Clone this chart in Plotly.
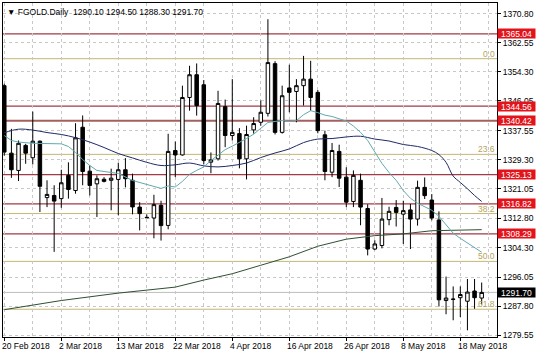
import plotly.graph_objects as go

# ---- data ----
bar_index = list(range(68))
opens = [1350.35, 1331.2, 1326.3, 1333.4, 1329.9, 1334.6, 1318.6, 1319.2, 1318.3, 1324.9,
         1320.6, 1338.55, 1326.1, 1322.5, 1323.8, 1323.5, 1323.75, 1326.5, 1323.5, 1315.9,
         1313.0, 1312.8, 1316.4, 1310.7, 1331.95, 1330.7, 1347.0, 1353.45, 1350.6, 1328.65,
         1329.6, 1344.4, 1336.2, 1336.75, 1329.6, 1337.8, 1339.96, 1342.5, 1356.6, 1337.1,
         1349.7, 1348.7, 1350.35, 1352.2, 1348.45, 1336.4, 1325.8, 1331.7, 1324.4, 1317.5,
         1323.5, 1315.5, 1304.0, 1305.0, 1312.35, 1315.8, 1313.9, 1315.1, 1312.5, 1321.5,
         1317.9, 1312.25, 1289.4, 1289.7, 1290.2, 1289.2, 1292.1, 1290.10]
highs = [1350.9, 1338.1, 1334.8, 1333.85, 1343.0, 1334.8, 1323.5, 1322.1, 1326.5, 1328.6,
         1339.7, 1341.9, 1327.7, 1324.9, 1324.4, 1326.8, 1328.5, 1329.8, 1325.4, 1317.3,
         1313.8, 1319.4, 1317.7, 1336.7, 1334.5, 1350.35, 1356.0, 1356.65, 1351.95, 1331.4,
         1348.9, 1346.4, 1352.2, 1338.3, 1339.0, 1341.4, 1346.1, 1369.2, 1357.3, 1350.35,
         1356.3, 1352.2, 1358.8, 1357.4, 1349.1, 1337.6, 1334.1, 1333.6, 1327.2, 1326.3,
         1325.4, 1316.7, 1306.5, 1318.5, 1316.0, 1317.9, 1317.7, 1316.8, 1323.4, 1324.3,
         1319.6, 1314.7, 1296.2, 1293.4, 1293.4, 1295.5, 1295.5, 1294.50]
lows = [1330.5, 1324.2, 1323.3, 1328.2, 1328.0, 1314.5, 1315.9, 1303.2, 1315.7, 1318.3,
        1319.7, 1322.1, 1319.2, 1313.1, 1322.9, 1315.0, 1313.6, 1321.5, 1313.85, 1309.3,
        1312.8, 1307.05, 1306.4, 1309.6, 1324.4, 1330.5, 1343.25, 1341.85, 1328.0, 1325.5,
        1329.1, 1332.9, 1334.8, 1326.9, 1323.75, 1336.75, 1339.0, 1341.6, 1336.5, 1336.75,
        1342.8, 1339.96, 1344.7, 1343.25, 1336.85, 1323.5, 1324.4, 1321.6, 1315.9, 1315.9,
        1310.75, 1302.2, 1303.7, 1304.2, 1310.75, 1310.4, 1305.45, 1304.0, 1310.65, 1318.2,
        1312.15, 1287.7, 1285.5, 1283.8, 1284.7, 1280.95, 1287.05, 1288.30]
closes = [1331.5, 1326.5, 1334.0, 1331.2, 1334.6, 1321.8, 1319.5, 1317.6, 1322.8, 1320.9,
          1335.55, 1326.0, 1322.05, 1323.95, 1323.2, 1324.1, 1326.5, 1323.95, 1315.95, 1314.05,
          1312.9, 1316.6, 1310.65, 1331.7, 1330.7, 1347.0, 1353.45, 1344.7, 1329.1, 1329.3,
          1345.3, 1336.2, 1337.1, 1329.6, 1336.5, 1339.6, 1342.8, 1356.9, 1337.1, 1347.5,
          1348.45, 1350.35, 1352.2, 1347.0, 1337.6, 1326.0, 1331.95, 1324.1, 1317.3, 1324.9,
          1315.9, 1304.0, 1305.45, 1312.5, 1314.7, 1314.4, 1314.9, 1312.5, 1321.5, 1319.15,
          1312.8, 1289.6, 1290.1, 1289.8, 1291.1, 1291.8, 1290.2, 1291.70]

fast_ma_idx = [0, 1, 2, 4, 8, 9, 10, 11, 12, 13, 14, 16, 18, 20, 22, 23, 24, 25, 26, 27,
               28, 29, 30, 31, 32, 33, 34, 35, 36, 37, 38, 39, 40, 41, 42, 43, 44, 45, 46, 47,
               48, 49, 50, 51, 52, 53, 54, 55, 56, 57, 58, 59, 60, 61, 62, 63, 64, 65, 66, 67]
fast_ma = [1336.2, 1334.8, 1334.35, 1334.0, 1333.85, 1333.1, 1331.4, 1329.4, 1327.7, 1326.3,
           1326.0, 1325.45, 1323.45, 1322.3, 1321.2, 1321.9, 1321.6, 1323.2, 1325.2, 1326.3,
           1327.3, 1329.1, 1330.55, 1332.2, 1333.2, 1334.2, 1335.35, 1336.6, 1338.2, 1339.9,
           1340.2, 1340.45, 1340.3, 1340.45, 1342.1, 1343.25, 1342.7, 1342.0, 1341.6, 1340.9,
           1340.3, 1338.9, 1337.1, 1334.8, 1331.5, 1328.3, 1325.7, 1323.5, 1320.6, 1318.4,
           1317.0, 1316.1, 1315.0, 1313.3, 1310.75, 1308.5, 1307.05, 1305.65, 1304.25, 1303.1]

slow_ma_idx = [0, 2, 4, 6, 8, 10, 12, 14, 16, 18, 20, 22, 24, 26, 28, 30, 32, 34, 36, 38,
               40, 42, 44, 46, 48, 50, 52, 54, 56, 58, 60, 61, 62, 63, 64, 65, 66, 67]
slow_ma = [1337.0, 1338.0, 1337.75, 1337.05, 1336.5, 1335.6, 1334.35, 1332.8, 1331.1, 1329.85,
           1328.6, 1327.7, 1327.9, 1328.4, 1327.6, 1327.3, 1327.7, 1328.4, 1329.95, 1331.25,
           1332.4, 1334.2, 1335.2, 1335.35, 1335.8, 1336.0, 1335.2, 1334.65, 1333.65, 1333.1,
           1331.95, 1330.8, 1328.6, 1324.7, 1322.9, 1321.1, 1319.2, 1317.5]

long_ma_idx = [0, 8, 16, 24, 28, 32, 36, 40, 44, 48, 52, 56, 60, 64, 67]
long_ma = [1286.8, 1289.4, 1291.5, 1293.2, 1295.2, 1297.0, 1299.4, 1301.8, 1304.8, 1306.8,
           1307.8, 1308.3, 1309.2, 1309.45, 1309.5]

level_values = [1365.04, 1344.56, 1340.42, 1325.13, 1316.82, 1308.29]
level_labels = ["1365.04", "1344.56", "1340.42", "1325.13", "1316.82", "1308.29"]

fib_names = ["0.0", "23.6", "38.2", "50.0", "61.8"]
fib_values = [1358.0, 1330.86, 1314.07, 1300.5, 1286.93]

last_price = 1291.70
last_label = "1291.70"

y_ticks = [1370.80, 1362.55, 1354.30, 1346.05, 1337.55, 1329.30, 1321.05, 1312.80,
           1304.30, 1296.05, 1287.80, 1279.55]
y_tick_text = ["1370.80", "1362.55", "1354.30", "1346.05", "1337.55", "1329.30", "1321.05",
               "1312.80", "1304.30", "1296.05", "1287.80", "1279.55"]

date_label_idx = [0, 8, 16, 24, 32, 40, 48, 56, 64]
date_labels = ["20 Feb 2018", "2 Mar 2018", "13 Mar 2018", "22 Mar 2018", "4 Apr 2018",
               "16 Apr 2018", "26 Apr 2018", "8 May 2018", "18 May 2018"]
grid_minor_idx = [4, 12, 20, 28, 36, 44, 52, 60, 68]

title_text = "\u25BC FGOLD.Daily  1290.10 1294.50 1288.30 1291.70"

# ---- styles ----
FONT = "Liberation Sans, Arial, sans-serif"
FS = 8.5
RED_LINE = "#A23A45"
RED_BOX = "#E3131B"
FIB_LINE = "#C4B872"
FIB_TEXT = "#B5A45A"
GRID = "#C8C8C8"

fig = go.Figure()

fig.add_trace(go.Scatter(x=long_ma_idx, y=long_ma, mode="lines",
                         line=dict(color="#2F4F32", width=1), hoverinfo="skip", showlegend=False))
fig.add_trace(go.Scatter(x=slow_ma_idx, y=slow_ma, mode="lines", line_shape="spline",
                         line=dict(color="#1F2A66", width=1), hoverinfo="skip", showlegend=False))
fig.add_trace(go.Scatter(x=fast_ma_idx, y=fast_ma, mode="lines",
                         line=dict(color="#62A9AE", width=1), hoverinfo="skip", showlegend=False))

fig.add_trace(go.Candlestick(
    x=bar_index, open=opens, high=highs, low=lows, close=closes,
    increasing=dict(line=dict(color="#000000", width=1), fillcolor="#FFFFFF"),
    decreasing=dict(line=dict(color="#000000", width=1), fillcolor="#000000"),
    whiskerwidth=0, hoverinfo="skip", showlegend=False))

shapes = []
annotations = []

for v, lab in zip(fib_values, fib_names):
    shapes.append(dict(type="line", xref="paper", yref="y", x0=0, x1=1, y0=v, y1=v,
                       line=dict(color=FIB_LINE, width=1), layer="below"))
    annotations.append(dict(xref="paper", yref="y", x=1, y=v, xanchor="right", yanchor="bottom",
                            xshift=-1, yshift=-1, text=lab, showarrow=False,
                            font=dict(family=FONT, size=FS, color=FIB_TEXT), borderpad=0))

shapes.append(dict(type="line", xref="paper", yref="y", x0=0, x1=1, y0=last_price, y1=last_price,
                   line=dict(color="#BDBDBD", width=1), layer="below"))

for v, lab in zip(level_values, level_labels):
    w = 2 if lab == "1340.42" else 1.3
    col = "#A46060" if lab == "1340.42" else RED_LINE
    shapes.append(dict(type="line", xref="paper", yref="y", x0=0, x1=1, y0=v, y1=v,
                       line=dict(color=col, width=w), layer="below"))
    annotations.append(dict(xref="paper", yref="y", x=1, y=v, xanchor="left", yanchor="middle",
                            xshift=0, text=lab, showarrow=False, bgcolor=RED_BOX, width=37,
                            height=9, align="center", borderpad=0,
                            font=dict(family=FONT, size=FS, color="#FFFFFF")))

annotations.append(dict(xref="paper", yref="y", x=1, y=last_price, xanchor="left", yanchor="middle",
                        text=last_label, showarrow=False, bgcolor="#000000", width=37, height=9,
                        align="center", borderpad=0,
                        font=dict(family=FONT, size=FS, color="#FFFFFF")))

for xi, lab in zip(date_label_idx, date_labels):
    annotations.append(dict(xref="x", yref="paper", x=xi, y=0, xanchor="left", yanchor="top",
                            xshift=-3, yshift=-3, text=lab, showarrow=False, borderpad=0,
                            font=dict(family=FONT, size=FS, color="#000000")))

annotations.append(dict(xref="paper", yref="paper", x=0, y=1, xanchor="left", yanchor="top",
                        xshift=3, yshift=-3, text=title_text, showarrow=False, borderpad=0,
                        font=dict(family=FONT, size=FS, color="#000000")))

fig.update_layout(
    width=536, height=357,
    margin=dict(l=2, r=38, t=2, b=20),
    paper_bgcolor="#FFFFFF", plot_bgcolor="#FFFFFF",
    shapes=shapes, annotations=annotations,
    font=dict(family=FONT, size=FS, color="#000000"),
    xaxis=dict(range=[-0.18, 69.15], rangeslider=dict(visible=False),
               tickvals=date_label_idx, showticklabels=False,
               ticks="outside", ticklen=3, tickcolor="#000000",
               showgrid=True, gridcolor=GRID, griddash="3px,3px", gridwidth=1,
               minor=dict(tickvals=grid_minor_idx, showgrid=True, gridcolor=GRID,
                          griddash="3px,3px", gridwidth=1, ticks=""),
               showline=True, linecolor="#000000", linewidth=1, mirror=True,
               zeroline=False, fixedrange=True),
    yaxis=dict(range=[1279.05, 1373.8], side="right", tickvals=y_ticks, ticktext=y_tick_text,
               ticks="outside", ticklen=3, tickcolor="#000000",
               tickfont=dict(family=FONT, size=FS, color="#000000"),
               showgrid=True, gridcolor=GRID, griddash="3px,3px", gridwidth=1,
               showline=True, linecolor="#000000", linewidth=1, mirror=True,
               zeroline=False, fixedrange=True),
)

fig.write_html("out.html", config={"displayModeBar": False},
               post_script="document.body.style.margin='0';document.body.style.padding='0';")
